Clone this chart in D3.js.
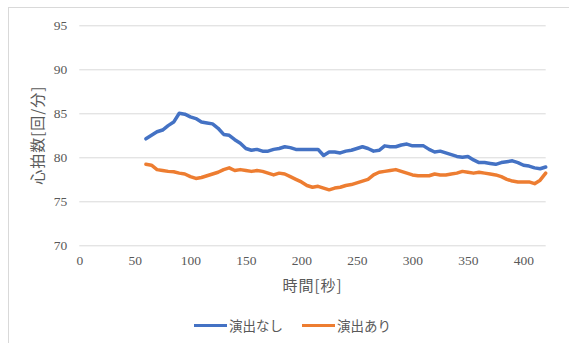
<!DOCTYPE html>
<html>
<head>
<meta charset="utf-8">
<script src="https://cdn.jsdelivr.net/npm/d3@7"></script>
<style>
  html, body { margin: 0; padding: 0; background: #fff; }
  svg { display: block; }
</style>
</head>
<body>
<svg id="chart" width="569" height="343"></svg>
<script>
// Heart rate over time, sampled every 5 seconds
const timeSec = d3.range(60, 421, 5);
const noEffect = [
  82.1, 82.5, 82.9, 83.1, 83.6, 84.0, 85.0, 84.9, 84.6, 84.4,
  84.0, 83.9, 83.8, 83.3, 82.6, 82.5, 82.0, 81.6, 81.0, 80.8,
  80.9, 80.7, 80.7, 80.9, 81.0, 81.2, 81.1, 80.9, 80.9, 80.9,
  80.9, 80.9, 80.2, 80.6, 80.6, 80.5, 80.7, 80.8, 81.0, 81.2,
  81.0, 80.7, 80.8, 81.3, 81.2, 81.2, 81.4, 81.5, 81.3, 81.3,
  81.3, 80.9, 80.6, 80.7, 80.5, 80.3, 80.1, 80.0, 80.1, 79.7,
  79.4, 79.4, 79.3, 79.2, 79.4, 79.5, 79.6, 79.4, 79.1, 79.0,
  78.8, 78.7, 78.9
];
const withEffect = [
  79.2, 79.1, 78.6, 78.5, 78.4, 78.35, 78.2, 78.1, 77.8, 77.6,
  77.7, 77.9, 78.1, 78.3, 78.6, 78.8, 78.5, 78.6, 78.5, 78.4,
  78.5, 78.4, 78.2, 78.0, 78.2, 78.1, 77.8, 77.5, 77.2, 76.8,
  76.6, 76.7, 76.5, 76.3, 76.5, 76.6, 76.8, 76.9, 77.1, 77.3,
  77.5, 78.0, 78.3, 78.4, 78.5, 78.6, 78.4, 78.2, 78.0, 77.9,
  77.9, 77.9, 78.1, 78.0, 78.0, 78.1, 78.2, 78.4, 78.3, 78.2,
  78.3, 78.2, 78.1, 78.0, 77.8, 77.5, 77.3, 77.2, 77.2, 77.2,
  77.0, 77.4, 78.2
];
const seriesNames = ["演出なし", "演出あり"];
const seriesColors = ["#4472C4", "#ED7D31"];
const xTicks = [0, 50, 100, 150, 200, 250, 300, 350, 400];
const yTicks = [70, 75, 80, 85, 90, 95];
const xTitle = "時間[秒]";
const yTitle = "心拍数[回/分]";

const svg = d3.select("#chart");
const plot = { left: 79.3, right: 545.7, top: 25.3, bottom: 245.3 };

const x = d3.scaleLinear().domain([0, 420]).range([plot.left, plot.right]);
const y = d3.scaleLinear().domain([70, 95]).range([plot.bottom, plot.top]);

// Chart frame
svg.append("rect")
  .attr("x", 8.5).attr("y", 7.5)
  .attr("width", 620).attr("height", 400)
  .attr("fill", "#fff")
  .attr("stroke", "#d9d9d9").attr("stroke-width", 1);

// Horizontal gridlines with value labels
const yAxis = d3.axisLeft(y).tickValues(yTicks).tickSize(-(plot.right - plot.left)).tickPadding(12);
const gy = svg.append("g").attr("transform", `translate(${plot.left},0)`).call(yAxis);
gy.select(".domain").remove();
gy.selectAll(".tick line").attr("stroke", "#d9d9d9").attr("stroke-width", 1);
gy.selectAll(".tick text")
  .attr("fill", "#595959")
  .style("font-family", "'Liberation Serif', 'Times New Roman', serif")
  .style("font-size", "13.5px");

// Time axis labels
const xAxis = d3.axisBottom(x).tickValues(xTicks).tickSize(0).tickPadding(10);
const gx = svg.append("g").attr("transform", `translate(0,${plot.bottom})`).call(xAxis);
gx.select(".domain").remove();
gx.selectAll(".tick text")
  .attr("fill", "#595959")
  .style("font-family", "'Liberation Serif', 'Times New Roman', serif")
  .style("font-size", "13.5px");

// Axis titles
svg.append("text")
  .attr("x", (plot.left + plot.right) / 2).attr("y", 291)
  .attr("text-anchor", "middle")
  .attr("fill", "#595959")
  .style("font-family", "'Noto Sans CJK JP', sans-serif")
  .style("font-size", "15px")
  .style("letter-spacing", "1px")
  .text(xTitle);

svg.append("text")
  .attr("transform", `translate(43,${(plot.top + plot.bottom) / 2}) rotate(-90)`)
  .attr("text-anchor", "middle")
  .attr("fill", "#595959")
  .style("font-family", "'Noto Sans CJK JP', sans-serif")
  .style("font-size", "15px")
  .style("letter-spacing", "1px")
  .text(yTitle);

// Series lines
const line = d3.line()
  .x((d, i) => x(timeSec[i]))
  .y(d => y(d));

[noEffect, withEffect].forEach((vals, k) => {
  svg.append("path")
    .datum(vals)
    .attr("fill", "none")
    .attr("stroke", seriesColors[k])
    .attr("stroke-width", 3.5)
    .attr("stroke-linejoin", "round")
    .attr("stroke-linecap", "round")
    .attr("d", line);
});

// Legend
const legendX = [194, 302];
const legend = svg.append("g");
seriesNames.forEach((name, k) => {
  legend.append("line")
    .attr("x1", legendX[k]).attr("x2", legendX[k] + 33)
    .attr("y1", 325.5).attr("y2", 325.5)
    .attr("stroke", seriesColors[k]).attr("stroke-width", 3);
  legend.append("text")
    .attr("x", legendX[k] + 35).attr("y", 330.5)
    .attr("fill", "#595959")
    .style("font-family", "'Noto Sans CJK JP', sans-serif")
    .style("font-size", "13.5px")
    .text(name);
});
</script>
</body>
</html>
